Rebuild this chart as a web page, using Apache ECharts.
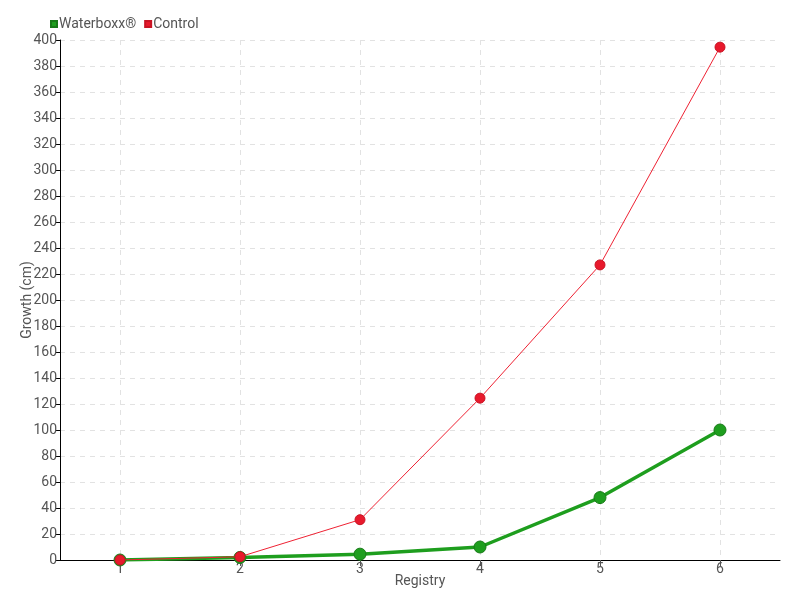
<!DOCTYPE html>
<html><head><meta charset="utf-8">
<script src="https://cdn.jsdelivr.net/npm/echarts@6/dist/echarts.min.js"></script>
<style>html,body{margin:0;padding:0;background:#fff}#c{width:800px;height:600px}</style>
</head><body><div id="c"></div>
<script>
const categories = [1, 2, 3, 4, 5, 6];
const waterboxx = [0, 2, 4.5, 10, 48, 100];
const control = [0, 2.5, 31, 124.5, 227, 394.5];
const yTicks = [0, 20, 40, 60, 80, 100, 120, 140, 160, 180, 200, 220, 240, 260, 280, 300, 320, 340, 360, 380, 400];

const FONT = "Roboto, 'Liberation Sans Narrow', sans-serif";
const chart = echarts.init(document.getElementById('c'));
chart.setOption({
  animation: false,
  textStyle: { fontFamily: FONT },
  legend: {
    left: 45, top: 12,
    icon: 'rect', itemWidth: 6, itemHeight: 6, itemGap: 8,
    textStyle: { fontFamily: FONT, fontSize: 14, color: '#555', padding: [0,0,0,-3] },
    data: ['Waterboxx®', 'Control']
  },
  grid: { left: 60, right: 20, top: 40, bottom: 40, containLabel: false },
  xAxis: {
    type: 'value', min: 0.5, max: 6.5,
    name: 'Registry', nameLocation: 'middle', nameGap: 14, nameMoveOverlap: false,
    nameTextStyle: { fontFamily: FONT, fontSize: 14, color: '#555' },
    axisLine: { show: true, onZero: false, lineStyle: { color: '#000', width: 1 } },
    axisTick: { show: true, customValues: categories, length: 6, lineStyle: { color: '#555' } },
    axisLabel: { customValues: categories, fontFamily: FONT, fontSize: 14, color: '#555', margin: 2 },
    splitLine: { show: true, lineStyle: { color: '#e2e2e2', type: [5, 5] } }
  },
  yAxis: {
    type: 'value', min: 0, max: 400, interval: 20,
    name: 'Growth (cm)', nameLocation: 'middle', nameGap: 26, nameRotate: 90, nameMoveOverlap: false,
    nameTextStyle: { fontFamily: FONT, fontSize: 14, color: '#555' },
    axisLine: { show: true, lineStyle: { color: '#000', width: 1 } },
    axisTick: { show: true, length: 5, lineStyle: { color: '#000' } },
    axisLabel: { fontFamily: FONT, fontSize: 14, color: '#555', margin: 3,
      customValues: yTicks },
    splitLine: { show: true, lineStyle: { color: '#e2e2e2', type: [5, 5] } }
  },
  series: [
    {
      name: 'Waterboxx®', type: 'line',
      data: categories.map((c, i) => [c, waterboxx[i]]),
      symbol: 'circle', symbolSize: 12,
      lineStyle: { color: '#1e9e1e', width: 3.5 },
      itemStyle: { color: '#1e9e1e', borderColor: '#177a17', borderWidth: 1 },
      z: 2
    },
    {
      name: 'Control', type: 'line',
      data: categories.map((c, i) => [c, control[i]]),
      symbol: 'circle', symbolSize: 10,
      lineStyle: { color: '#ee2233', width: 1 },
      itemStyle: { color: '#e8192c', borderColor: '#c81424', borderWidth: 1 },
      z: 3
    }
  ]
});
</script></body></html>
